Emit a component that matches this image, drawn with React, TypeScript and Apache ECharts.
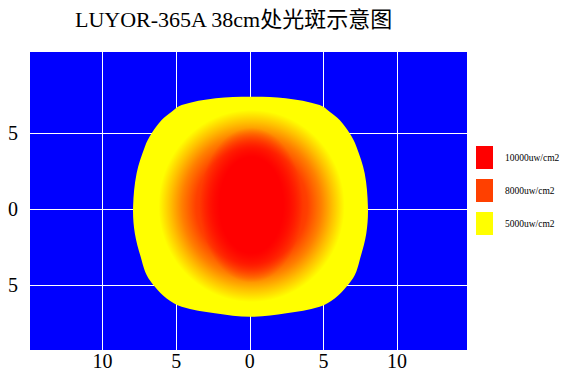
import React, { useEffect, useRef } from 'react';
import * as echarts from 'echarts';

const titleText = 'LUYOR-365A 38cm处光斑示意图';

// axis ticks (labels show the distance from the centre, without sign)
const xTickValues = [-10, -5, 0, 5, 10];
const yTickValues = [-5, 0, 5];

// legend: irradiance levels and their colours
const legendLabels = ['10000uw/cm2', '8000uw/cm2', '5000uw/cm2'];
const legendValues = [10000, 8000, 5000];
const legendColors = ['#ff0000', '#ff4000', '#ffff00'];

// outline of the light spot (cm), read clockwise from the top
const spotEdgeX = [0.05, 2.43, 4.74, 5.42, 6.1, 6.78, 7.24, 7.8, 8.02, 7.91, 7.46, 7.13, 6.56, 5.76, 4.74, 2.48, 0.05, -2.37, -4.63, -5.65, -6.45, -7.01, -7.35, -7.81, -7.93, -7.69, -7.13, -6.67, -5.99, -5.31, -4.63, -2.32];
const spotEdgeY = [7.41, 7.3, 6.86, 6.42, 5.88, 5.0, 4.12, 2.37, 0.17, -1.58, -3.34, -4.32, -5.09, -5.86, -6.41, -6.84, -7.07, -6.84, -6.41, -5.86, -5.09, -4.32, -3.34, -1.58, 0.17, 2.37, 4.12, 5.0, 5.88, 6.42, 6.86, 7.3];
const spotEdgeValue = 5000;

// irradiance zone inside the yellow plateau: centre and radii (cm)
const zoneCenter = [0.12, 0.22];
const zoneRadius = [6.32, 6.32];
// irradiance read along the zone radius (0 = centre, 1 = zone border)
const zoneProfileT = [0, 0.4, 0.6, 0.75, 0.87, 1];
const zoneProfileValue = [9000, 9000, 8000, 7000, 6000, 5000];

// hot core (>= 10000 uw/cm2)
const coreCenter = [0.1, 0.28];
const coreRadius = [3.5, 5.1];
const coreProfileT = [0, 0.62, 1];
const coreProfileAlpha = [1, 1, 0];
const coreValue = 10000;

function valueToColor(v: number, alpha = 1): string {
  const pairs = legendValues.map((val, i) => ({ val, c: legendColors[i] })).sort((a, b) => a.val - b.val);
  const hex = (c: string) => [1, 3, 5].map((k) => parseInt(c.slice(k, k + 2), 16));
  let rgb = hex(pairs[0].c);
  if (v >= pairs[pairs.length - 1].val) rgb = hex(pairs[pairs.length - 1].c);
  else {
    for (let i = 0; i < pairs.length - 1; i++) {
      if (v >= pairs[i].val && v <= pairs[i + 1].val) {
        const f = (v - pairs[i].val) / (pairs[i + 1].val - pairs[i].val);
        const a = hex(pairs[i].c);
        const b = hex(pairs[i + 1].c);
        rgb = a.map((x, k) => Math.round(x + (b[k] - x) * f));
        break;
      }
    }
  }
  return `rgba(${rgb[0]},${rgb[1]},${rgb[2]},${alpha})`;
}

const serif = '"Liberation Serif", "Times New Roman", serif';

export default function App() {
  const ref = useRef<HTMLDivElement>(null);

  useEffect(() => {
    if (!ref.current) return;
    const chart = echarts.init(ref.current, null, { renderer: 'svg' });

    const renderSpot = (params: any, api: any) => {
      const pts = spotEdgeX.map((x, i) => api.coord([x, spotEdgeY[i]]));
      const zc = api.coord(zoneCenter);
      const zs = api.size(zoneRadius);
      const cc = api.coord(coreCenter);
      const cs = api.size(coreRadius);
      return {
        type: 'group',
        children: [
          {
            type: 'polygon',
            shape: { points: pts, smooth: 0.35 },
            style: { fill: valueToColor(spotEdgeValue), stroke: null },
          },
          {
            type: 'ellipse',
            shape: { cx: zc[0], cy: zc[1], rx: zs[0], ry: zs[1] },
            style: {
              fill: new echarts.graphic.RadialGradient(
                0.5, 0.5, 0.5,
                zoneProfileT.map((t, i) => ({ offset: t, color: valueToColor(zoneProfileValue[i]) }))
              ),
            },
          },
          {
            type: 'ellipse',
            shape: { cx: cc[0], cy: cc[1], rx: cs[0], ry: cs[1] },
            style: {
              fill: new echarts.graphic.RadialGradient(
                0.5, 0.5, 0.5,
                coreProfileT.map((t, i) => ({ offset: t, color: valueToColor(coreValue, coreProfileAlpha[i]) }))
              ),
            },
          },
        ],
      };
    };

    chart.setOption({
      animation: false,
      title: {
        text: titleText,
        left: 75,
        top: 8,
        padding: 0,
        textStyle: { fontSize: 22, fontWeight: 'normal', color: '#000', fontFamily: serif + ', "Noto Sans CJK SC"' },
      },
      legend: {
        orient: 'vertical',
        left: 476,
        top: 146,
        padding: 0,
        itemWidth: 17,
        itemHeight: 23,
        itemGap: 10,
        icon: 'rect',
        selectedMode: false,
        data: legendLabels,
        textStyle: { fontSize: 9.5, color: '#000', fontFamily: serif, padding: [0, 0, 0, 7] },
      },
      grid: {
        left: 29,
        top: 52,
        width: 438,
        height: 298,
        show: true,
        backgroundColor: '#0000ff',
        borderWidth: 0,
      },
      xAxis: {
        type: 'value',
        min: -15,
        max: 14.75,
        interval: 5,
        axisLine: { show: false },
        axisTick: { show: false },
        axisLabel: {
          customValues: xTickValues,
          formatter: (v: number) => String(Math.abs(v)),
          fontSize: 20,
          color: '#000',
          fontFamily: serif,
          margin: 1,
        },
        splitLine: { show: true, customValues: xTickValues, lineStyle: { color: '#ffffff', width: 1 } },
      },
      yAxis: {
        type: 'value',
        min: -9.25,
        max: 10.35,
        axisLine: { show: false },
        axisTick: { show: false, customValues: yTickValues },
        axisLabel: {
          customValues: yTickValues,
          formatter: (v: number) => String(Math.abs(v)),
          fontSize: 20,
          color: '#000',
          fontFamily: serif,
          margin: 11,
        },
        splitLine: { show: true, customValues: yTickValues, lineStyle: { color: '#ffffff', width: 1 } },
      },
      series: [
        {
          type: 'custom',
          name: 'spot',
          renderItem: renderSpot,
          data: [[0, 0]],
          clip: true,
          z: 3,
          silent: true,
        },
        ...legendLabels.map((name, i) => ({
          type: 'scatter',
          name,
          data: [],
          itemStyle: { color: legendColors[i], opacity: 1 },
        })),
      ],
    } as any);

    return () => chart.dispose();
  }, []);

  return <div ref={ref} style={{ position: 'fixed', left: 0, top: 0, width: 566, height: 378, background: '#fff' }} />;
}
